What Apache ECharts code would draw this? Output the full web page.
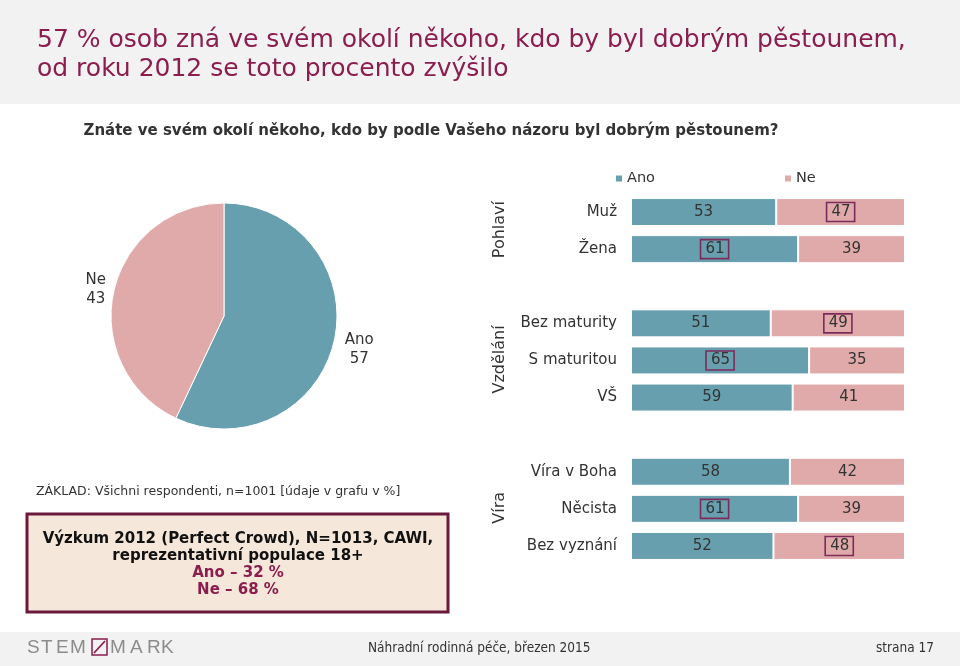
<!DOCTYPE html>
<html><head><meta charset="utf-8">
<script src="https://cdn.jsdelivr.net/npm/echarts@6/dist/echarts.min.js"></script>
<style>html,body{margin:0;padding:0;background:#fff}#c{width:960px;height:666px}</style>
</head><body><div id="c"></div>
<script>
// ---- data ----
const categories = ['Muž', 'Žena', '', 'Bez maturity', 'S maturitou', 'VŠ', ' ', 'Víra v Boha', 'Něcista', 'Bez vyznání'];
const groupNames = ['Pohlaví', 'Vzdělání', 'Víra'];
const groupFirst = [0, 3, 7];
const groupLast = [1, 5, 9];
const seriesNames = ['Ano', 'Ne'];
const anoValues = [53, 61, null, 51, 65, 59, null, 58, 61, 52];
const neValues = [47, 39, null, 49, 35, 41, null, 42, 39, 48];
const anoBoxed = [false, true, false, false, true, false, false, false, true, false];
const neBoxed = [true, false, false, true, false, false, false, false, false, true];
const pieNames = ['Ano', 'Ne'];
const pieValues = [57, 43];

const titleText = '57 % osob zná ve svém okolí někoho, kdo by byl dobrým pěstounem,\nod roku 2012 se toto procento zvýšilo';
const subtitleText = 'Znáte ve svém okolí někoho, kdo by podle Vašeho názoru byl dobrým pěstounem?';
const baseText = 'ZÁKLAD: Všichni respondenti, n=1001 [údaje v grafu v %]';
const noteLines = ['Výzkum 2012 (Perfect Crowd), N=1013, CAWI,', 'reprezentativní populace 18+', 'Ano – 32 %', 'Ne – 68 %'];
const footerText = 'Náhradní rodinná péče, březen 2015';
const pageText = 'strana 17';
const logoLeft = ['S', 'T', 'E', 'M'];
const logoRight = ['M', 'A', 'R', 'K'];

// ---- style ----
const TEAL = '#689fae';
const PINK = '#e0aaaa';
const DARK = '#333333';
const PURPLE = '#8b1d4f';
const FONT = 'DejaVu Sans, Verdana, sans-serif';
const COND = 'DejaVu Sans Condensed, DejaVu Sans, sans-serif';

function barData(vals, boxed) {
  return vals.map((v, i) => {
    if (v == null) return null;
    const d = { value: v };
    if (boxed[i]) d.label = { borderColor: '#7b2c5b', borderWidth: 1.6, padding: [3, 4, 1, 5] };
    return d;
  });
}

const chart = echarts.init(document.getElementById('c'), null, { renderer: 'canvas' });

function logoLetters(letters, xs) {
  return letters.map((ch, i) => ({ type: 'text', style: { text: ch, x: xs[i], y: 648, textAlign: 'left', textVerticalAlign: 'middle', fontSize: 19, fontFamily: 'Liberation Sans, sans-serif', fill: '#8c8c8c' } }));
}

const staticGraphics = [
  { type: 'rect', z: -10, shape: { x: 0, y: 0, width: 960, height: 104 }, style: { fill: '#f2f2f2' } },
  { type: 'rect', z: -10, shape: { x: 0, y: 632, width: 960, height: 34 }, style: { fill: '#f2f2f2' } },
  { type: 'text', style: { text: subtitleText, x: 431, y: 131, textAlign: 'center', textVerticalAlign: 'middle', fontSize: 15, fontWeight: 'bold', fontFamily: FONT, fill: DARK } },
  { type: 'text', style: { text: baseText, x: 36, y: 492, textAlign: 'left', textVerticalAlign: 'middle', fontSize: 12.5, fontFamily: FONT, fill: DARK } },
  { type: 'rect', shape: { x: 27, y: 514, width: 421, height: 98 }, style: { fill: '#f5e7da', stroke: '#6b1a3c', lineWidth: 3 } },
  { type: 'text', style: { text: noteLines[0], x: 238, y: 539, textAlign: 'center', textVerticalAlign: 'middle', fontSize: 15, fontWeight: 'bold', fontFamily: FONT, fill: '#111' } },
  { type: 'text', style: { text: noteLines[1], x: 238, y: 556, textAlign: 'center', textVerticalAlign: 'middle', fontSize: 15, fontWeight: 'bold', fontFamily: FONT, fill: '#111' } },
  { type: 'text', style: { text: noteLines[2], x: 238, y: 573, textAlign: 'center', textVerticalAlign: 'middle', fontSize: 15, fontWeight: 'bold', fontFamily: FONT, fill: PURPLE } },
  { type: 'text', style: { text: noteLines[3], x: 238, y: 590, textAlign: 'center', textVerticalAlign: 'middle', fontSize: 15, fontWeight: 'bold', fontFamily: FONT, fill: PURPLE } },
  // footer
  { type: 'rect', shape: { x: 92, y: 639, width: 15, height: 16 }, style: { fill: 'none', stroke: '#8b1d4f', lineWidth: 1.5 } },
  { type: 'line', shape: { x1: 94, y1: 653, x2: 105, y2: 641 }, style: { stroke: '#8b1d4f', lineWidth: 1.8 } },
  { type: 'text', style: { text: footerText, x: 368, y: 648, textAlign: 'left', textVerticalAlign: 'middle', fontSize: 13.5, fontFamily: COND, fill: DARK } },
  { type: 'text', style: { text: pageText, x: 934, y: 648, textAlign: 'right', textVerticalAlign: 'middle', fontSize: 13.5, fontFamily: COND, fill: DARK } }
].concat(logoLetters(logoLeft, [27, 41, 56, 70]), logoLetters(logoRight, [110, 130, 147, 161]));

const option = {
  animation: false,
  backgroundColor: '#ffffff',
  title: {
    text: titleText,
    left: 32, top: 21,
    textStyle: { fontSize: 25, fontWeight: 'normal', fontFamily: FONT, color: PURPLE, lineHeight: 29 }
  },
  legend: {
    data: seriesNames,
    left: 609, top: 166,
    itemWidth: 8, itemHeight: 8, itemGap: 128,
    icon: 'rect',
    textStyle: { fontSize: 14.5, fontFamily: FONT, color: DARK, padding: [0, 0, 0, -1] }
  },
  grid: { left: 631, right: 55, top: 193.5, height: 371, containLabel: false },
  xAxis: { type: 'value', min: 0, max: 100, show: false },
  yAxis: {
    type: 'category', data: categories, inverse: true,
    axisLine: { show: false }, axisTick: { show: false }, splitLine: { show: false },
    axisLabel: { fontSize: 15, fontFamily: FONT, color: DARK, margin: 14 }
  },
  series: [
    {
      name: seriesNames[0], type: 'bar', stack: 'all', barWidth: 28,
      data: barData(anoValues, anoBoxed),
      itemStyle: { color: TEAL, borderColor: '#fff', borderWidth: 1 },
      label: { show: true, position: 'inside', fontSize: 15, fontFamily: FONT, color: DARK }
    },
    {
      name: seriesNames[1], type: 'bar', stack: 'all', barWidth: 28,
      data: barData(neValues, neBoxed),
      itemStyle: { color: PINK, borderColor: '#fff', borderWidth: 1 },
      label: { show: true, position: 'inside', fontSize: 15, fontFamily: FONT, color: DARK }
    },
    {
      type: 'pie', center: [224, 316], radius: 113, startAngle: 90, clockwise: true,
      legendHoverLink: false,
      data: pieNames.map((n, i) => ({
        name: n, value: pieValues[i],
        itemStyle: { color: i === 0 ? TEAL : PINK },
        label: { offset: i === 0 ? [3, 9] : [4, -2] }
      })),
      itemStyle: { borderColor: '#fff', borderWidth: 1 },
      label: {
        show: true, position: 'outside', formatter: '{t|{b}}\n{t|{c}}',
        rich: { t: { width: 30, align: 'center', fontSize: 15, fontFamily: FONT, color: DARK, lineHeight: 19 } }
      },
      labelLine: { show: false, length: 1, length2: 1 }
    }
  ],
  graphic: staticGraphics
};
chart.setOption(option);

// group labels, positioned from the category axis
const groupGraphics = groupNames.map((g, k) => {
  const y1 = chart.convertToPixel({ yAxisIndex: 0 }, groupFirst[k]);
  const y2 = chart.convertToPixel({ yAxisIndex: 0 }, groupLast[k]);
  return { type: 'text', x: 500, y: (y1 + y2) / 2 - 1, rotation: Math.PI / 2,
    style: { text: g, x: 0, y: 0, textAlign: 'center', textVerticalAlign: 'middle', fontSize: 16, fontFamily: FONT, fill: DARK } };
});
chart.setOption({ graphic: staticGraphics.concat(groupGraphics) });
</script></body></html>
